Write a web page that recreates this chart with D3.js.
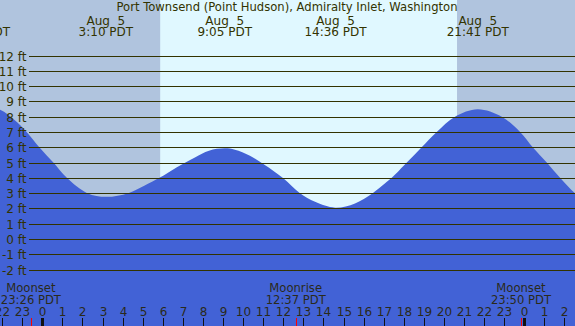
<!DOCTYPE html>
<html>
<head>
<meta charset="utf-8">
<script src="https://cdn.jsdelivr.net/npm/d3@7"></script>
<style>
  html, body { margin: 0; padding: 0; background: #fff; }
  svg { display: block; font-family: "DejaVu Sans", sans-serif; }
  text { white-space: pre; }
</style>
</head>
<body>
<svg id="chart" width="575" height="326"></svg>
<script>
// tide height (hours since Aug 5 00:00 PDT, feet)
var tideHours = [-3.15, -2.1, -1.4, -0.78, -0.15, 0.55, 1.22, 2.24, 3.17, 4.28, 5.1, 5.83, 6.7, 7.6, 8.3, 9.08,
                 9.59, 10.34, 11.06, 12.0, 12.83, 13.58, 14.58, 15.57, 16.45, 17.07, 17.4, 18.15, 18.89, 19.64,
                 20.55, 21.68, 22.88, 23.79, 24.42, 25.12, 25.78, 26.53, 27.2];
var tideFeet  = [8.64, 8.45, 7.8, 7.0, 6.0, 5.0, 4.0, 3.0, 2.76, 3.0, 3.5, 4.0, 4.7, 5.34, 5.78, 5.93,
                 5.84, 5.45, 4.86, 3.98, 3.0, 2.43, 2.05, 2.33, 3.0, 3.64, 4.0, 5.0, 6.0, 7.0,
                 8.0, 8.49, 8.0, 7.0, 6.0, 5.0, 4.0, 2.98, 2.35];

// high / low labels along the top
var tideLabelHours = [-3.15, 3.167, 9.083, 14.6, 21.683];
var tideLabelDates = ["Aug  4", "Aug  5", "Aug  5", "Aug  5", "Aug  5"];
var tideLabelTimes = ["20:51 PDT", "3:10 PDT", "9:05 PDT", "14:36 PDT", "21:41 PDT"];

// moon events along the bottom
var moonHours = [-0.567, 12.617, 23.833];
var moonNames = ["Moonset", "Moonrise", "Moonset"];
var moonTimes = ["23:26 PDT", "12:37 PDT", "23:50 PDT"];

// daylight (sunrise, sunset)
var sunHours = [5.87, 20.65];

var feetTicks = d3.range(-2, 13);
var hourTicks = d3.range(-3, 28);

var title = "Port Townsend (Point Hudson), Admiralty Inlet, Washington";

var W = 575, H = 326;
var svg = d3.select("#chart");

var x = d3.scaleLinear().domain([0, 24]).range([42.3, 524.3]);
var y = d3.scaleLinear().domain([0, 12]).range([239, 55.6]);

var nightColor = "#b0c4de", dayColor = "#e0f8ff", waterColor = "#4262d6";
var ink = "#333300";

// background: night / day / night
svg.append("rect").attr("x", 0).attr("y", 0).attr("width", W).attr("height", H).attr("fill", nightColor);
svg.append("rect")
  .attr("x", x(sunHours[0])).attr("y", 0)
  .attr("width", x(sunHours[1]) - x(sunHours[0])).attr("height", H)
  .attr("fill", dayColor);

// water
var tide = tideHours.map(function(h, i) { return { h: h, v: tideFeet[i] }; });
var area = d3.area()
  .x(function(d) { return x(d.h); })
  .y0(H)
  .y1(function(d) { return y(d.v); })
  .curve(d3.curveCatmullRom.alpha(0.5));
svg.append("path").attr("d", area(tide)).attr("fill", waterColor);

// feet grid
var grid = svg.append("g");
feetTicks.forEach(function(f) {
  var yy = Math.round(y(f)) + 0.5;
  grid.append("line")
    .attr("x1", 29).attr("x2", W).attr("y1", yy).attr("y2", yy)
    .attr("stroke", ink).attr("stroke-width", 1).attr("shape-rendering", "crispEdges");
  grid.append("text")
    .attr("x", 26.5).attr("y", yy + 4.3)
    .attr("text-anchor", "end").attr("font-size", 12).attr("fill", ink)
    .text(f + " ft");
});

// title
svg.append("text")
  .attr("x", 287).attr("y", 10.5).attr("text-anchor", "middle")
  .attr("font-size", 11.6).attr("fill", ink).text(title);

// tide labels
var tl = svg.append("g").attr("font-size", 12).attr("fill", ink).attr("text-anchor", "middle");
tideLabelHours.forEach(function(h, i) {
  tl.append("text").attr("x", x(h)).attr("y", 24.5).text(tideLabelDates[i]);
  tl.append("text").attr("x", x(h)).attr("y", 36).text(tideLabelTimes[i]);
});

// hour ticks
var ax = svg.append("g");
hourTicks.forEach(function(h) {
  var xx = Math.round(x(h));
  var midnight = ((h % 24) + 24) % 24 === 0;
  ax.append("line")
    .attr("x1", xx + 0.5).attr("x2", xx + 0.5).attr("y1", 318).attr("y2", H)
    .attr("stroke", "#111").attr("stroke-width", midnight ? 3 : 1)
    .attr("shape-rendering", "crispEdges");
  ax.append("text")
    .attr("x", xx + 0.5).attr("y", 315.5).attr("text-anchor", "middle")
    .attr("font-size", 12).attr("fill", "#2a2a1a")
    .text(((h % 24) + 24) % 24);
});

// moon events
var ml = svg.append("g").attr("font-size", 11.6).attr("fill", "#2a2a1a").attr("text-anchor", "middle");
moonHours.forEach(function(h, i) {
  var xx = Math.round(x(h));
  ml.append("text").attr("x", x(h)).attr("y", 292).text(moonNames[i]);
  ml.append("text").attr("x", x(h)).attr("y", 304).text(moonTimes[i]);
  svg.append("line")
    .attr("x1", xx + 0.5).attr("x2", xx + 0.5).attr("y1", 318).attr("y2", H)
    .attr("stroke", "red").attr("stroke-width", 1).attr("shape-rendering", "crispEdges");
});
</script>
</body>
</html>
